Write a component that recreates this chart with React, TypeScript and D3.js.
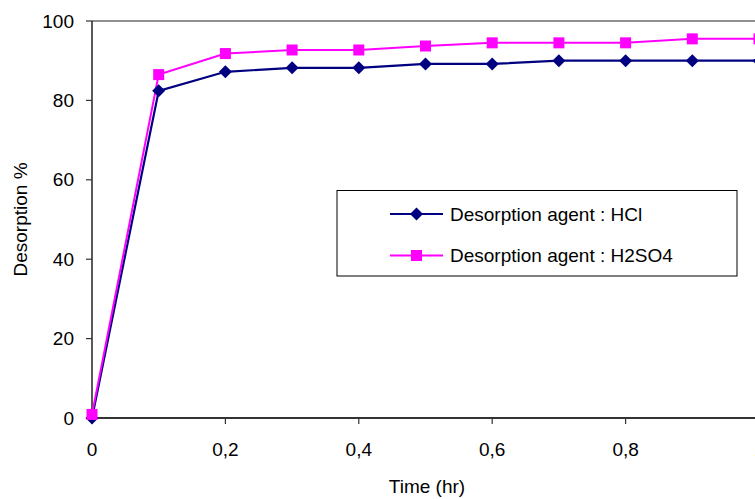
import React from "react";
import * as d3 from "d3";

const times = [0, 0.1, 0.2, 0.3, 0.4, 0.5, 0.6, 0.7, 0.8, 0.9, 1.0];
const hclValues = [0, 82.4, 87.2, 88.2, 88.2, 89.2, 89.2, 90.0, 90.0, 90.0, 90.0];
const h2so4Values = [0.9, 86.5, 91.8, 92.7, 92.7, 93.7, 94.5, 94.5, 94.5, 95.5, 95.5];
const xTicks = [0, 0.2, 0.4, 0.6, 0.8, 1];
const yTicks = [0, 20, 40, 60, 80, 100];
const seriesNames = ["Desorption agent : HCl", "Desorption agent : H2SO4"];

const W = 755;
const H = 499;
const left = 92;
const top = 21;
const bottom = 418;
const right = 759;
const font = "Arial, 'Liberation Sans', sans-serif";
const navy = "#000080";
const magenta = "#FF00FF";

export default function App() {
  const x = d3.scaleLinear().domain([0, 1]).range([left, right]);
  const y = d3.scaleLinear().domain([0, 100]).range([bottom, top]);
  const line = d3
    .line<number>()
    .x((_, i) => x(times[i]))
    .y((d) => y(d));

  const diamond = (cx: number, cy: number, r: number) =>
    `M${cx},${cy - r}L${cx + r},${cy}L${cx},${cy + r}L${cx - r},${cy}Z`;

  const fmt = (v: number) => String(v).replace(".", ",");

  return (
    <svg
      width={W}
      height={H}
      style={{ position: "absolute", left: 0, top: 0, background: "#fff" }}
      fontFamily={font}
    >
      <rect x={0} y={0} width={W} height={H} fill="#fff" />
      {/* plot border */}
      <line x1={left} y1={top} x2={W} y2={top} stroke="#222" strokeWidth={1.2} />
      {/* axes */}
      <line x1={left} y1={top} x2={left} y2={bottom} stroke="#222" strokeWidth={1.5} />
      <line x1={left} y1={bottom} x2={W} y2={bottom} stroke="#333" strokeWidth={2} />
      {yTicks.map((t) => (
        <g key={"y" + t}>
          <line x1={left - 6} x2={left} y1={y(t)} y2={y(t)} stroke="#333" strokeWidth={1.2} />
          <text
            x={74}
            y={y(t)}
            textAnchor="end"
            dominantBaseline="central"
            fontSize={19}
            fill="#000"
          >
            {t}
          </text>
        </g>
      ))}
      {xTicks.map((t) => (
        <g key={"x" + t}>
          <line x1={x(t)} x2={x(t)} y1={bottom} y2={bottom + 6} stroke="#333" strokeWidth={1.2} />
          <text x={x(t)} y={456} textAnchor="middle" fontSize={19} fill="#000">
            {fmt(t)}
          </text>
        </g>
      ))}
      <text x={427} y={493} textAnchor="middle" fontSize={19} fill="#000">
        Time (hr)
      </text>
      <text
        transform={`translate(27,${(top + bottom) / 2}) rotate(-90)`}
        textAnchor="middle"
        fontSize={19}
        fill="#000"
      >
        Desorption %
      </text>

      {/* series */}
      <path d={line(hclValues) || ""} fill="none" stroke={navy} strokeWidth={2.2} />
      <path d={line(h2so4Values) || ""} fill="none" stroke={magenta} strokeWidth={2} />
      {hclValues.map((v, i) => (
        <path key={"d" + i} d={diamond(x(times[i]), y(v), 6.5)} fill={navy} />
      ))}
      {h2so4Values.map((v, i) => (
        <rect
          key={"s" + i}
          x={x(times[i]) - 5.5}
          y={y(v) - 5.5}
          width={11}
          height={11}
          fill={magenta}
        />
      ))}

      {/* legend */}
      <rect x={337} y={190.5} width={400} height={85.5} fill="#fff" stroke="#000" strokeWidth={1} />
      <line x1={390} x2={443} y1={214} y2={214} stroke={navy} strokeWidth={2.2} />
      <path d={diamond(416.5, 214, 6.5)} fill={navy} />
      <text x={450} y={214} dominantBaseline="central" fontSize={19} fill="#000">
        {seriesNames[0]}
      </text>
      <line x1={390} x2={443} y1={255.5} y2={255.5} stroke={magenta} strokeWidth={2} />
      <rect x={411} y={250} width={11} height={11} fill={magenta} />
      <text x={450} y={255.5} dominantBaseline="central" fontSize={19} fill="#000">
        {seriesNames[1]}
      </text>
    </svg>
  );
}
